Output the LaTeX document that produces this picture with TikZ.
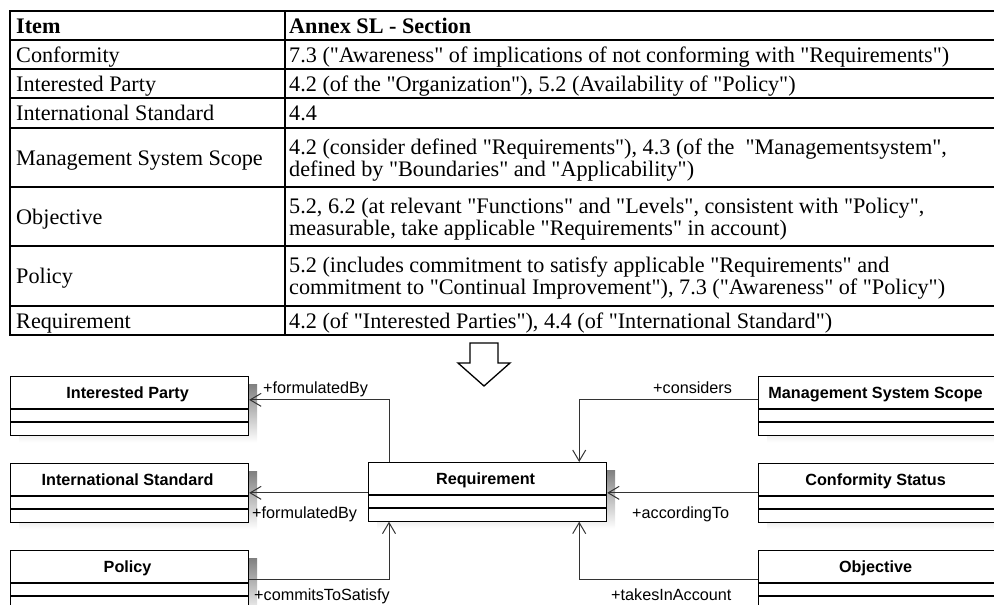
\documentclass[tikz,border=0pt]{standalone}
\usepackage{fontspec}
% plain families: no TeX mapping, so " stays a straight quote
\newfontfamily\tabfont{Liberation Serif}
\newfontfamily\umlfont{Liberation Sans}
\usetikzlibrary{arrows.meta,calc}
\definecolor{shade}{HTML}{F0F0F0}
\definecolor{wire}{HTML}{333333}

% UML class: shadow, frame, two empty compartments and a bold title
\newcommand{\umlclass}[4]{%
  \fill[shade] (#2+9,#3+8) rectangle ++(238,58.5);
  \node[classbox] (#1) at (#2,#3) {};
  \draw[line width=1.2pt] ([yshift=-33pt]#1.north west) -- ([yshift=-33pt]#1.north east);
  \draw[line width=1.2pt] ([yshift=-46pt]#1.north west) -- ([yshift=-46pt]#1.north east);
  \node[classname] (#1-title) at ([yshift=-22pt,xshift=-2pt]#1.north) {#4};
}

\begin{document}
\begin{tikzpicture}[x=1pt,y=-1pt,
  rule/.style={line width=2pt, black},
  cell/.style={anchor=base west, inner sep=0pt, font=\tabfont\fontsize{22.2}{24}\selectfont},
  headcell/.style={cell, font=\tabfont\fontsize{22.2}{24}\selectfont\bfseries},
  classbox/.style={draw=black, line width=1.2pt, fill=white, rectangle,
    minimum width=238pt, minimum height=58.5pt, anchor=north west, inner sep=0pt},
  classname/.style={font=\umlfont\bfseries\fontsize{16.2}{19}\selectfont, inner sep=0pt, anchor=base},
  role/.style={font=\umlfont\fontsize{16.2}{19}\selectfont, inner sep=0pt, anchor=base west},
  assoc/.style={draw=wire, line width=1pt, -{Straight Barb[length=11pt,width=13pt]}},
]
\useasboundingbox (0,0) rectangle (994,605);
\clip (0,0) rectangle (994,605);

% ---- table: Annex SL references ----
\foreach \y in {11,40,69,98,128,187,246,306,335}
  \draw[rule] (9,\y) -- (1000,\y);
\draw[line width=2.4pt] (10,10) -- (10,336);
\draw[rule] (285,10) -- (285,336);

\node[headcell] (h1) at (16,33) {Item};
\node[headcell] (h2) at (289,33) {Annex SL - Section};

\node[cell] (r1a) at (16,62) {Conformity};
\node[cell] (r1b) at (289,62) {7.3 ("Awareness" of implications of not conforming with "Requirements")};

\node[cell] (r2a) at (16,91) {Interested Party};
\node[cell] (r2b) at (289,91) {4.2 (of the "Organization"), 5.2 (Availability of "Policy")};

\node[cell] (r3a) at (16,120.5) {International Standard};
\node[cell] (r3b) at (289,120.5) {4.4};

\node[cell] (r4a) at (16,165) {Management System Scope};
\node[cell] (r4b) at (289,154) {4.2 (consider defined "Requirements"), 4.3 (of the\ \ "Managementsystem",};
\node[cell] (r4c) at (289,176) {defined by "Boundaries" and "Applicability")};

\node[cell] (r5a) at (16,224) {Objective};
\node[cell] (r5b) at (289,213) {5.2, 6.2 (at relevant "Functions" and "Levels", consistent with "Policy",};
\node[cell] (r5c) at (289,235) {measurable, take applicable "Requirements" in account)};

\node[cell] (r6a) at (16,283.5) {Policy};
\node[cell] (r6b) at (289,272.5) {5.2 (includes commitment to satisfy applicable "Requirements" and};
\node[cell] (r6c) at (289,294.5) {commitment to "Continual Improvement"), 7.3 ("Awareness" of "Policy")};

\node[cell] (r7a) at (16,328) {Requirement};
\node[cell] (r7b) at (289,328) {4.2 (of "Interested Parties"), 4.4 (of "International Standard")};

% ---- transformation arrow ----
\draw[line width=1.3pt, fill=white, line join=miter]
  (470,343) -- (498,343) -- (498,363) -- (510,363) -- (484,386)
  -- (458,363) -- (470,363) -- cycle;

% ---- class diagram ----
\umlclass{ip}{10}{376}{Interested Party}
\umlclass{is}{10}{463}{International Standard}
\umlclass{pol}{10}{550}{Policy}
\umlclass{req}{368}{462}{Requirement}
\umlclass{mss}{758}{376}{Management System Scope}
\umlclass{cs}{758}{463}{Conformity Status}
\umlclass{obj}{758}{550}{Objective}

\draw[assoc] ([xshift=21pt]req.north west) |- ([yshift=6pt]ip.east);
\draw[assoc] (is.east -| req.west) -- (is.east);
\draw[assoc] (pol.east) -| ([xshift=21pt]req.south west);
\draw[assoc] ([yshift=6pt]mss.west) -| ([xshift=-28pt]req.north east);
\draw[assoc] (cs.west) -- (cs.west -| req.east);
\draw[assoc] (obj.west) -| ([xshift=-28pt]req.south east);

\node[role] (l1) at (263,393) {+formulatedBy};
\node[role] (l2) at (252,518) {+formulatedBy};
\node[role] (l3) at (254,600.5) {+commitsToSatisfy};
\node[role] (l4) at (653,393) {+considers};
\node[role] (l5) at (632,518) {+accordingTo};
\node[role] (l6) at (611,600.5) {+takesInAccount};
\end{tikzpicture}
\end{document}
